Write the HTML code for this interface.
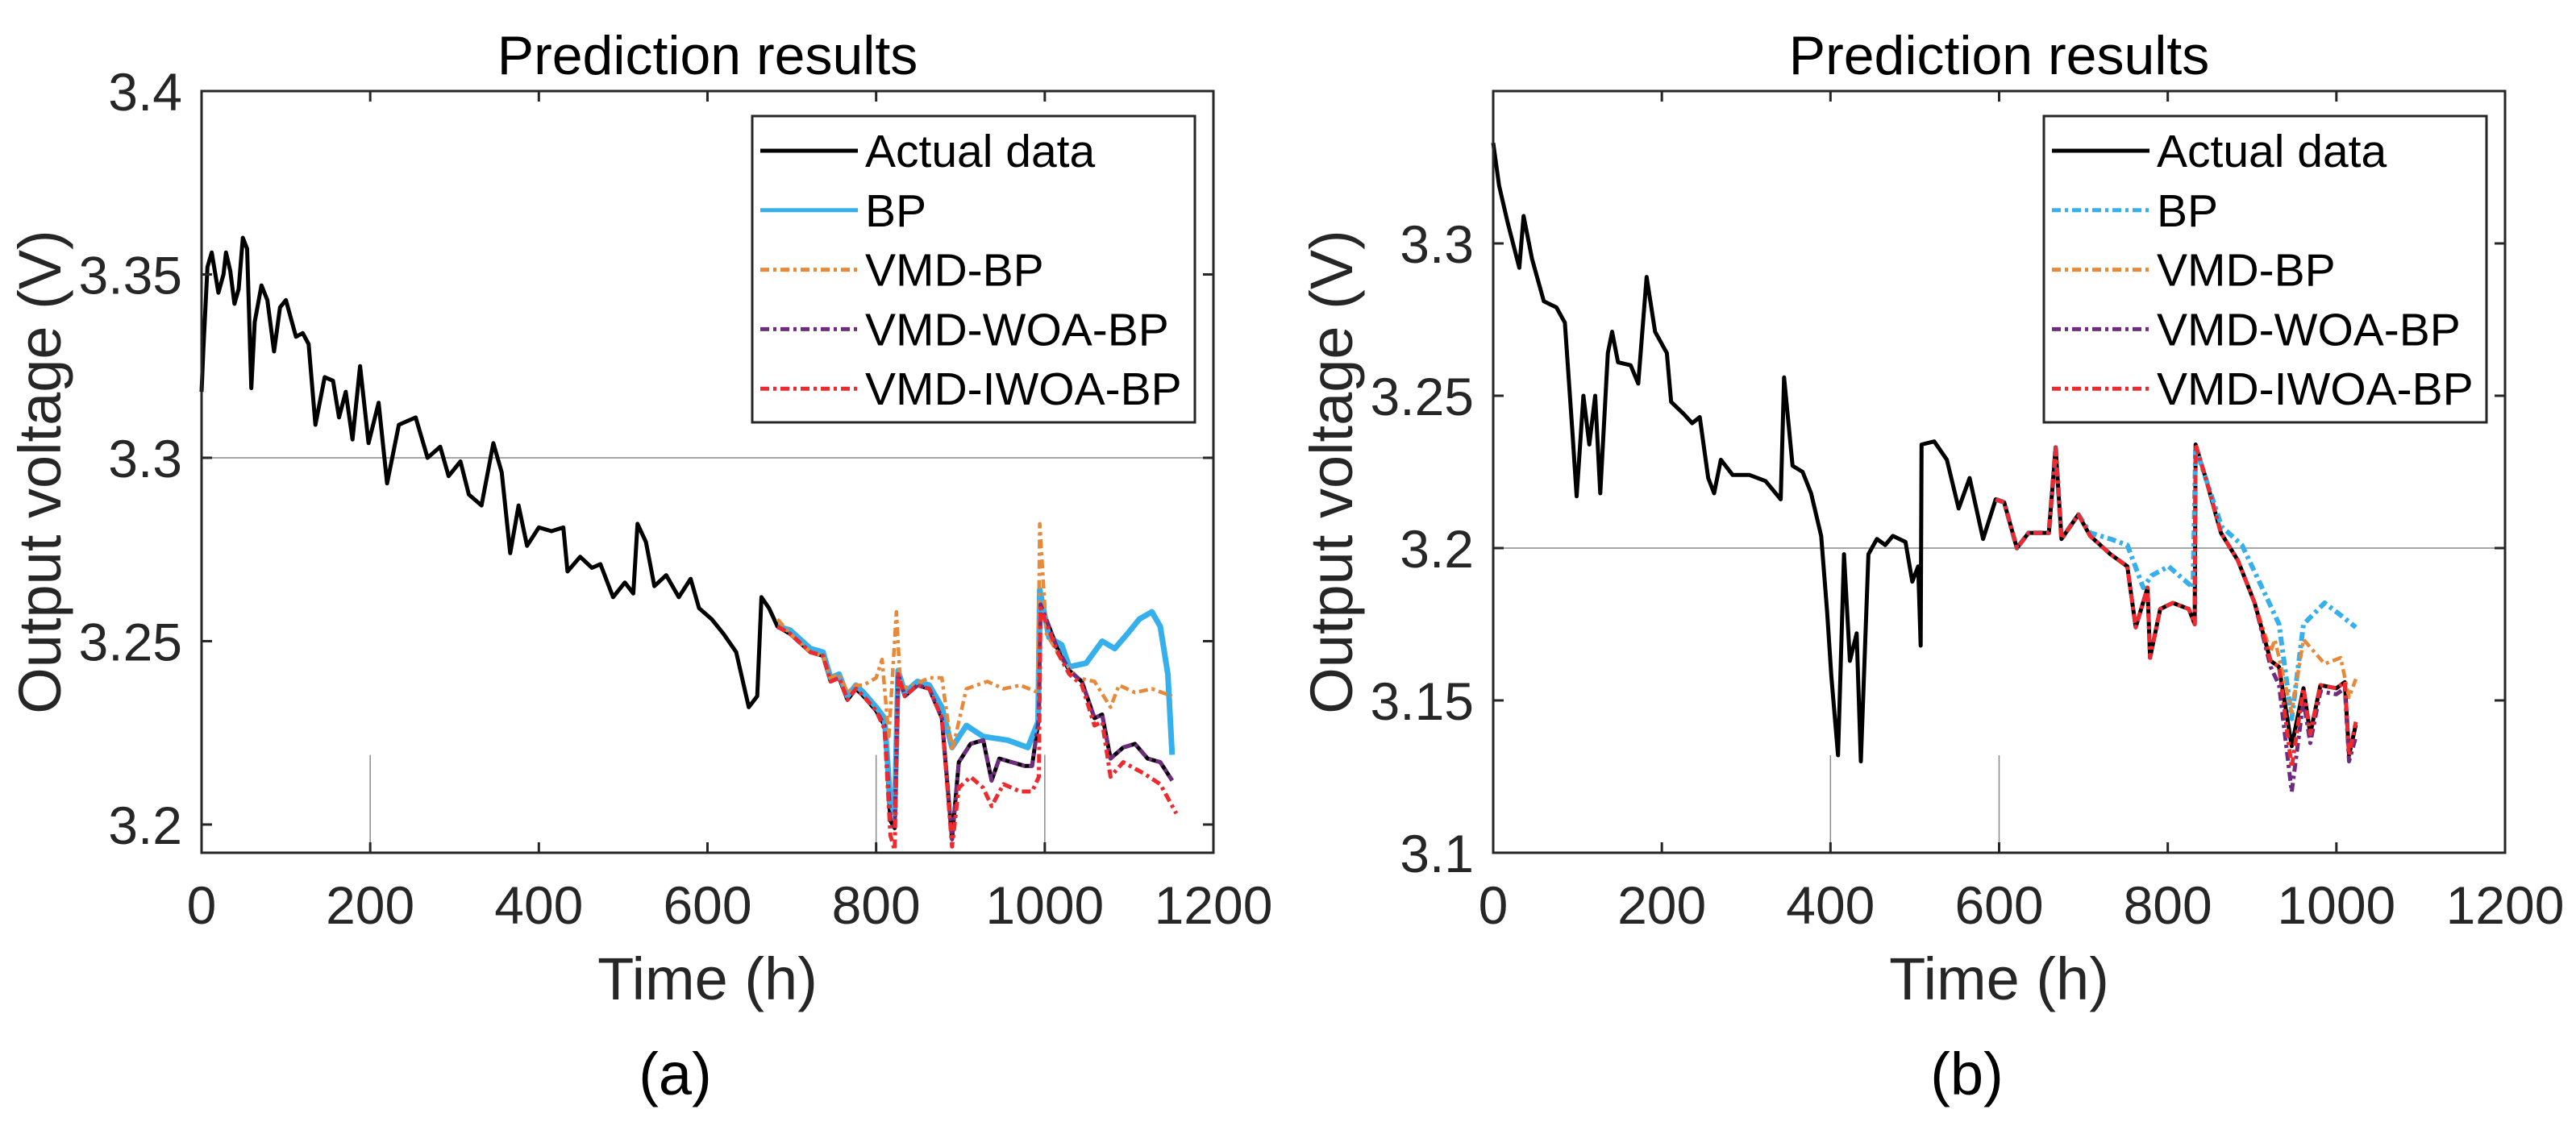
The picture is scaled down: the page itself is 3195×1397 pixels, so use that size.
<!DOCTYPE html>
<html><head><meta charset="utf-8"><style>
html,body{margin:0;padding:0;background:#fff;}
svg{display:block;font-family:"Liberation Sans",Arial,sans-serif;}
</style></head><body>
<svg id="fig" width="3195" height="1397" viewBox="0 0 3195 1397" xmlns="http://www.w3.org/2000/svg"></svg>
<script>
// ---------- Panel (a) data ----------
const aActualT = [0,2,7,12,20,26,29,34,39,44,49,54,59,63,71,78,86,93,100,112,120,127,135,146,156,163,171,179,188,198,210,220,234,254,268,283,293,307,317,332,346,356,366,376,386,400,415,429,434,449,463,473,488,502,512,517,527,537,551,566,580,590,605,619,634,649,659,664,673,683,698,722,737,746,756,766,776,785,800,810,817,822,826,834,849,863,878,890,898,912,927,937,946,961,976,985,993,995,1005,1015,1029,1044,1059,1068,1078,1093,1107,1122,1137,1151];
const aActualV = [3.318,3.329,3.352,3.356,3.345,3.350,3.356,3.351,3.342,3.346,3.360,3.357,3.319,3.337,3.347,3.343,3.329,3.341,3.343,3.333,3.334,3.331,3.309,3.322,3.321,3.311,3.318,3.305,3.325,3.304,3.315,3.293,3.309,3.311,3.300,3.303,3.295,3.299,3.290,3.287,3.304,3.296,3.274,3.287,3.276,3.281,3.280,3.281,3.269,3.273,3.270,3.271,3.262,3.266,3.263,3.282,3.277,3.265,3.268,3.262,3.267,3.259,3.256,3.252,3.247,3.232,3.235,3.262,3.259,3.254,3.252,3.247,3.246,3.239,3.240,3.234,3.237,3.235,3.231,3.227,3.201,3.199,3.241,3.235,3.238,3.237,3.229,3.196,3.217,3.222,3.223,3.212,3.218,3.217,3.216,3.216,3.229,3.260,3.254,3.248,3.242,3.239,3.229,3.230,3.218,3.221,3.222,3.218,3.217,3.212];
const aBpT = [683,698,722,737,746,756,766,776,785,800,810,817,822,826,834,849,863,878,890,907,927,956,980,992,994,1005,1020,1029,1049,1068,1083,1098,1112,1127,1137,1146,1151];
const aBpV = [3.254,3.253,3.248,3.247,3.240,3.241,3.235,3.238,3.236,3.232,3.229,3.206,3.203,3.242,3.236,3.239,3.238,3.232,3.221,3.227,3.224,3.223,3.221,3.228,3.264,3.251,3.249,3.243,3.244,3.250,3.248,3.252,3.256,3.258,3.254,3.241,3.219];
const aVmdT = [683,698,722,737,746,756,766,776,785,800,807,815,824,829,844,863,878,890,907,932,951,971,992,994,1002,1020,1039,1059,1078,1088,1107,1127,1151];
const aVmdV = [3.256,3.252,3.247,3.246,3.240,3.241,3.236,3.238,3.238,3.240,3.245,3.224,3.258,3.237,3.238,3.240,3.240,3.220,3.237,3.239,3.237,3.238,3.236,3.282,3.252,3.245,3.240,3.239,3.232,3.238,3.236,3.237,3.235];
const aWoaT = [683,698,722,737,746,756,766,776,785,800,810,817,822,826,834,849,863,878,890,898,912,927,937,946,961,976,985,993,995,1005,1015,1029,1044,1059,1068,1078,1093,1107,1122,1137,1151];
const aWoaV = [3.254,3.252,3.247,3.246,3.239,3.240,3.234,3.237,3.235,3.231,3.227,3.201,3.199,3.241,3.235,3.238,3.237,3.229,3.196,3.217,3.222,3.223,3.212,3.218,3.217,3.216,3.216,3.229,3.260,3.254,3.248,3.242,3.239,3.229,3.230,3.218,3.221,3.222,3.218,3.217,3.212];
const aIwoaT = [683,698,722,737,746,756,766,776,785,800,810,817,822,826,834,849,863,878,890,898,912,927,937,951,971,985,993,995,1005,1015,1029,1044,1059,1068,1078,1093,1117,1137,1156];
const aIwoaV = [3.254,3.252,3.247,3.246,3.239,3.240,3.234,3.237,3.235,3.231,3.226,3.197,3.193,3.241,3.235,3.238,3.237,3.229,3.194,3.210,3.213,3.210,3.205,3.211,3.209,3.209,3.213,3.259,3.253,3.247,3.241,3.238,3.227,3.228,3.213,3.217,3.214,3.211,3.203];
// ---------- Panel (b) data ----------
const bActualT = [0,7,17,31,36,46,60,75,85,94,99,107,114,121,127,136,141,148,163,172,182,192,206,211,226,236,245,255,262,270,284,304,323,341,345,355,367,377,389,396,401,409,416,423,431,436,445,455,465,474,489,497,504,507,508,523,538,552,565,581,596,606,621,635,659,667,674,694,708,732,752,762,776,779,791,806,825,832,833,845,863,883,903,922,932,947,961,969,981,1000,1010,1015,1023];
const bActualV = [3.333,3.319,3.307,3.292,3.309,3.295,3.281,3.279,3.274,3.238,3.217,3.250,3.234,3.250,3.218,3.264,3.271,3.261,3.260,3.254,3.289,3.271,3.264,3.248,3.244,3.241,3.243,3.223,3.218,3.229,3.224,3.224,3.222,3.216,3.256,3.227,3.225,3.218,3.204,3.179,3.158,3.132,3.198,3.163,3.172,3.130,3.198,3.203,3.201,3.204,3.202,3.189,3.194,3.168,3.234,3.235,3.229,3.213,3.223,3.203,3.216,3.215,3.200,3.205,3.205,3.233,3.203,3.211,3.204,3.198,3.194,3.174,3.187,3.164,3.180,3.182,3.180,3.175,3.234,3.223,3.205,3.196,3.182,3.163,3.161,3.135,3.154,3.139,3.155,3.154,3.156,3.132,3.142];
const bBpT = [596,606,621,635,659,667,674,694,708,732,752,771,781,801,830,833,864,888,917,932,947,961,986,1005,1023];
const bBpV = [3.216,3.215,3.200,3.205,3.205,3.233,3.203,3.211,3.205,3.203,3.201,3.187,3.191,3.194,3.187,3.233,3.207,3.201,3.184,3.175,3.144,3.175,3.182,3.178,3.174];
const bVmdT = [596,606,621,635,659,667,674,694,708,732,752,762,776,779,791,806,825,832,833,845,863,883,903,922,927,947,961,986,1005,1015,1023];
const bVmdV = [3.216,3.215,3.200,3.205,3.205,3.233,3.203,3.211,3.204,3.198,3.194,3.174,3.187,3.164,3.180,3.182,3.180,3.175,3.234,3.223,3.205,3.196,3.182,3.166,3.170,3.146,3.170,3.162,3.164,3.151,3.157];
const bWoaT = [596,606,621,635,659,667,674,694,708,732,752,762,776,779,791,806,825,832,833,845,863,883,903,922,932,947,961,969,981,1000,1010,1015,1023];
const bWoaV = [3.216,3.215,3.200,3.205,3.205,3.233,3.203,3.211,3.204,3.198,3.194,3.174,3.187,3.164,3.180,3.182,3.180,3.175,3.234,3.223,3.205,3.196,3.182,3.161,3.155,3.120,3.150,3.136,3.153,3.152,3.154,3.130,3.138];
const bIwoaT = [596,606,621,635,659,667,674,694,708,732,752,762,776,779,791,806,825,832,833,845,863,883,903,922,932,947,961,969,981,1000,1010,1015,1023];
const bIwoaV = [3.216,3.215,3.200,3.205,3.205,3.233,3.203,3.211,3.204,3.198,3.194,3.174,3.187,3.164,3.180,3.182,3.180,3.175,3.234,3.223,3.205,3.196,3.182,3.163,3.161,3.128,3.154,3.139,3.155,3.154,3.156,3.132,3.143];
const xTicks = [0,200,400,600,800,1000,1200];
const aYTicks = [3.2,3.25,3.3,3.35,3.4];
const aYLabels = ["3.2","3.25","3.3","3.35","3.4"];
const bYTicks = [3.1,3.15,3.2,3.25,3.3];
const bYLabels = ["3.1","3.15","3.2","3.25","3.3"];
const legendLabels = ["Actual data","BP","VMD-BP","VMD-WOA-BP","VMD-IWOA-BP"];

const NS = "http://www.w3.org/2000/svg";
const svg = document.getElementById('fig');
function mk(tag, attrs, parent){const e=document.createElementNS(NS,tag);for(const k in attrs)e.setAttribute(k,attrs[k]);(parent||svg).appendChild(e);return e;}
const DASH = "11 5 4 5";
const COL = {actual:"#000000", bp:"#35B0EC", vmd:"#E8893A", woa:"#6E2C7E", iwoa:"#EE2A2E"};

function panel(p){
  const g = mk('g',{});
  
  
  const L=p.left,R=p.right,T=113,B=1058;
  const xs = t => L + (t-0)/1200*(R-L);
  const ys = v => B - (v-p.ymin)/(p.ymax-p.ymin)*(B-T);
  const hg = mk('line',{x1:L,x2:R,y1:ys(p.hline),y2:ys(p.hline),stroke:"#8a8a8a","stroke-width":1.5},g);
  
  
  p.vlines.forEach(t=>{
    const vl = mk('line',{x1:xs(t),x2:xs(t),y1:B,y2:ys(p.vtop),stroke:"#8a8a8a","stroke-width":1.5},g);
    
    
  });
  const series = p.series; // order: actual, bp, vmd, woa, iwoa
  series.forEach(s=>{
    let d="";
    for(let i=0;i<s.t.length;i++){d+=(i?"L":"M")+xs(s.t[i]).toFixed(1)+","+ys(s.v[i]).toFixed(1);}
    const attrs={d:d,fill:"none",stroke:s.c,"stroke-width":s.w,"stroke-linejoin":"round"};
    if(s.dash)attrs["stroke-dasharray"]=DASH;
    const path = mk('path',attrs,g);
    
    
  });
  const box = mk('rect',{x:L,y:T,width:R-L,height:B-T,fill:"none",stroke:"#262626","stroke-width":3},g);
  
  
  xTicks.forEach(t=>{
    mk('line',{x1:xs(t),x2:xs(t),y1:B,y2:B-13,stroke:"#262626","stroke-width":3},g);
    mk('line',{x1:xs(t),x2:xs(t),y1:T,y2:T+13,stroke:"#262626","stroke-width":3},g);
    const tx = mk('text',{x:xs(t),y:1146,"text-anchor":"middle","font-size":66,fill:"#262626"},g);
    tx.textContent=String(t);
    
    
  });
  p.yt.forEach((v,i)=>{
    mk('line',{x1:L,x2:L+13,y1:ys(v),y2:ys(v),stroke:"#262626","stroke-width":3},g);
    mk('line',{x1:R,x2:R-13,y1:ys(v),y2:ys(v),stroke:"#262626","stroke-width":3},g);
    const ty = mk('text',{x:L-24,y:ys(v)+24,"text-anchor":"end","font-size":66,fill:"#262626"},g);
    ty.textContent=p.yl[i];
    
    
  });
  const cx=(L+R)/2;
  const title = mk('text',{x:cx,y:92,"text-anchor":"middle","font-size":68,fill:"#000"},g);
  title.textContent="Prediction results";
  
  
  const xl = mk('text',{x:cx,y:1240,"text-anchor":"middle","font-size":74,fill:"#262626"},g);
  xl.textContent="Time (h)";
  
  
  const ylt = mk('text',{x:0,y:0,"text-anchor":"middle","font-size":74,fill:"#262626",transform:"translate("+(L-175)+","+((T+B)/2)+") rotate(-90)"},g);
  ylt.textContent="Output voltage (V)";
  
  
  const cap = mk('text',{x:cx-40,y:1358,"text-anchor":"middle","font-size":74,fill:"#000"},g);
  cap.textContent=p.caption;
  
  
  const lx=L+683, lw=549;
  const lg = mk('g',{},g);
  
  
  mk('rect',{x:lx,y:144,width:lw,height:380,fill:"#fff",stroke:"#262626","stroke-width":3},lg);
  series.forEach((s,i)=>{
    const yy=187+i*73.8;
    const la={x1:lx+10,x2:lx+131,y1:yy,y2:yy,stroke:s.c,"stroke-width":5};
    if(s.dash)la["stroke-dasharray"]=DASH;
    mk('line',la,lg);
    const lt = mk('text',{x:lx+140,y:yy+20,"font-size":57,fill:"#000"},lg);
    lt.textContent=legendLabels[i];
    
    
  });
}
panel({id:"a",left:250,right:1505,ymin:3.1923,ymax:3.4,yt:aYTicks,yl:aYLabels,hline:3.3,vlines:[200,800,1000],vtop:3.219,caption:"(a)",
  series:[
    {n:"actual",t:aActualT,v:aActualV,c:COL.actual,w:5,dash:false},
    {n:"bp",t:aBpT,v:aBpV,c:COL.bp,w:7,dash:false},
    {n:"vmd-bp",t:aVmdT,v:aVmdV,c:COL.vmd,w:4.5,dash:true},
    {n:"woa",t:aWoaT,v:aWoaV,c:COL.woa,w:5,dash:true},
    {n:"iwoa",t:aIwoaT,v:aIwoaV,c:COL.iwoa,w:5,dash:true}
  ]});
panel({id:"b",left:1852,right:3107,ymin:3.1,ymax:3.35,yt:bYTicks,yl:bYLabels,hline:3.2,vlines:[400,600],vtop:3.132,caption:"(b)",
  series:[
    {n:"actual",t:bActualT,v:bActualV,c:COL.actual,w:5,dash:false},
    {n:"bp",t:bBpT,v:bBpV,c:COL.bp,w:6,dash:true},
    {n:"vmd-bp",t:bVmdT,v:bVmdV,c:COL.vmd,w:4.5,dash:true},
    {n:"woa",t:bWoaT,v:bWoaV,c:COL.woa,w:5,dash:true},
    {n:"iwoa",t:bIwoaT,v:bIwoaV,c:COL.iwoa,w:5,dash:true}
  ]});
</script>
</body></html>
